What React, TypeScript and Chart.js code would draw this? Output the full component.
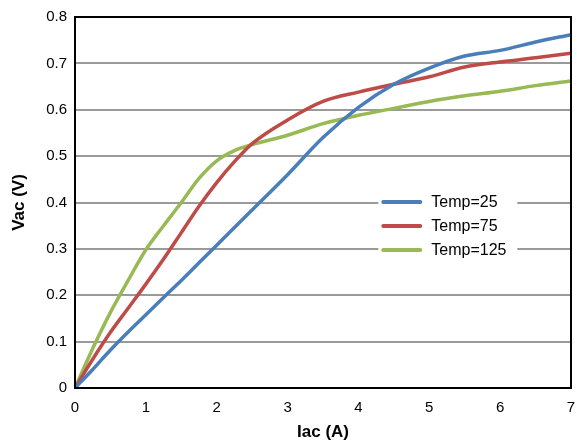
import React, { useEffect, useRef } from "react";
import { Chart, registerables } from "chart.js";

Chart.register(...registerables);

const xValues = [0, 0.25, 0.5, 0.75, 1, 1.25, 1.5, 1.75, 2, 2.25, 2.5, 3, 3.5, 4, 4.5, 5, 5.5, 6, 6.5, 7];
const temp25 = [0, 0.04, 0.082, 0.121, 0.158, 0.195, 0.232, 0.27, 0.308, 0.346, 0.384, 0.46, 0.54, 0.605, 0.655, 0.69, 0.716, 0.728, 0.746, 0.762];
const temp75 = [0, 0.062, 0.12, 0.172, 0.224, 0.278, 0.335, 0.392, 0.443, 0.488, 0.527, 0.578, 0.618, 0.638, 0.655, 0.671, 0.692, 0.703, 0.712, 0.722];
const temp125 = [0, 0.085, 0.163, 0.232, 0.298, 0.35, 0.4, 0.452, 0.49, 0.512, 0.525, 0.545, 0.57, 0.588, 0.603, 0.618, 0.63, 0.64, 0.652, 0.662];
const seriesNames = ["Temp=25", "Temp=75", "Temp=125"];
const seriesColors = ["#4A7EBB", "#BE4B48", "#98B954"];
const xTitle = "Iac (A)";
const yTitle = "Vac (V)";

const FONT = "'Liberation Sans', Arial, sans-serif";

export default function App() {
  const ref = useRef<HTMLCanvasElement | null>(null);
  useEffect(() => {
    if (!ref.current) return;
    const all = [temp25, temp75, temp125];
    const frame = {
      id: "frame",
      afterDatasetsDraw(chart: any) {
        const { ctx, chartArea: a } = chart;
        ctx.save();
        ctx.strokeStyle = "#000";
        ctx.lineWidth = 2;
        ctx.strokeRect(a.left, a.top, a.right - a.left, a.bottom - a.top);
        ctx.restore();
      },
      afterDraw(chart: any) {
        const { ctx } = chart;
        const xs = chart.scales.x;
        const ys = chart.scales.y;
        const lx = xs.getPixelForValue(4.28);
        const ly = ys.getPixelForValue(0.425);
        ctx.save();
        ctx.fillStyle = "#fff";
        ctx.fillRect(lx, ly, 139, 72);
        seriesNames.forEach((n, i) => {
          const y = ly + 11 + i * 24;
          ctx.strokeStyle = seriesColors[i];
          ctx.lineWidth = 4;
          ctx.lineCap = "round";
          ctx.beginPath();
          ctx.moveTo(lx + 5, y);
          ctx.lineTo(lx + 42, y);
          ctx.stroke();
          ctx.fillStyle = "#000";
          ctx.font = `16px ${FONT}`;
          ctx.textBaseline = "middle";
          ctx.fillText(n, lx + 53, y + 1);
        });
        ctx.restore();
      },
    };
    const chart = new Chart(ref.current, {
      type: "line",
      data: {
        datasets: seriesNames.map((n, i) => ({
          label: n,
          data: xValues.map((x, j) => ({ x, y: all[i][j] })),
          borderColor: seriesColors[i],
          backgroundColor: seriesColors[i],
          borderWidth: 3.5,
          pointRadius: 0,
          cubicInterpolationMode: "monotone" as const,
          fill: false,
        })),
      },
      options: {
        animation: false,
        responsive: false,
        maintainAspectRatio: false,
        layout: { padding: { left: 0, right: 6, top: 14, bottom: 0 } },
        plugins: { legend: { display: false }, tooltip: { enabled: false } },
        scales: {
          x: {
            type: "linear",
            min: 0,
            max: 7,
            ticks: { stepSize: 1, color: "#000", font: { family: FONT, size: 15 }, padding: 11 },
            grid: { display: false, drawTicks: false },
            border: { display: false },
            title: { display: true, text: xTitle, color: "#000", font: { family: FONT, size: 17, weight: "bold" }, padding: { top: 4, bottom: 4 } },
            afterFit: (s: any) => { s.height = 59; s.paddingRight = 0; s.paddingLeft = 0; },
          },
          y: {
            min: 0,
            max: 0.8,
            ticks: { stepSize: 0.1, color: "#000", font: { family: FONT, size: 15 }, padding: 8 },
            grid: { color: "#9a9a9a", lineWidth: 2, drawTicks: false },
            border: { display: false },
            title: { display: true, text: yTitle, color: "#000", font: { family: FONT, size: 17, weight: "bold" }, padding: { top: 9, bottom: 0 } },
            afterFit: (s: any) => { s.width = 75; },
          },
        },
      },
      plugins: [frame],
    });
    return () => chart.destroy();
  }, []);
  return (
    <div style={{ position: "fixed", left: 0, top: 0, width: 577, height: 447, background: "#fff" }}>
      <canvas ref={ref} width={577} height={447} style={{ width: 577, height: 447 }} />
    </div>
  );
}
